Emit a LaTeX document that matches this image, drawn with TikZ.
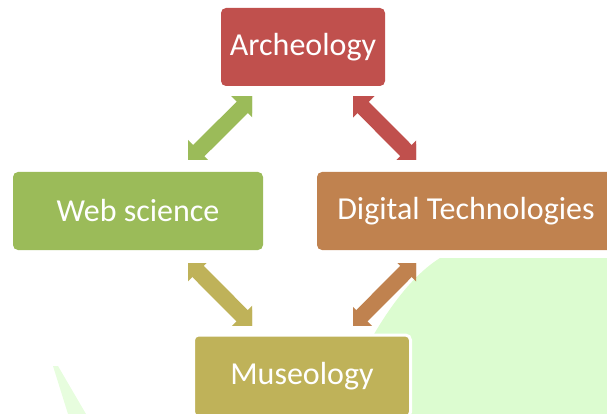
\documentclass[tikz,border=0pt]{standalone}
\usepackage{fontspec}
\setmainfont{Carlito}
\usepackage{tikz}
\usetikzlibrary{arrows.meta,calc}
\definecolor{archc}{HTML}{C0504D}
\definecolor{webc}{HTML}{9BBB59}
\definecolor{digc}{HTML}{C0824F}
\definecolor{musc}{HTML}{BFB259}
\definecolor{bgc}{HTML}{DCFCD0}
\tikzstyle{box}=[rectangle,
                 rounded corners=5pt,
                 inner sep=0pt,
                 minimum height=78pt,
                 text=white,
                 font=\fontsize{32}{38}\selectfont]
\tikzstyle{link}=[line width=16pt,
                  {Triangle[length=22pt,width=36pt]}-{Triangle[length=22pt,width=36pt]},
                  shorten <=8pt, shorten >=8pt]

\begin{document}
\begin{tikzpicture}[x=1pt,y=-1pt]
      % canvas of the slide part
      \useasboundingbox (0,0) rectangle (607,414);
      \clip (0,0) rectangle (607,414);

      % light green backdrop
      \fill[bgc] (440,258) -- (607,258) -- (607,414) -- (335,414)
                 .. controls (370,330) and (405,280) .. (440,258);
      \fill[bgc!70] (53,366) -- (58,366) -- (86,414) -- (68,414) -- cycle;

      \node [box, fill=archc, minimum width=164pt] (arch) at (303,47) {Archeology};
      \node [box, fill=webc, minimum width=250pt] (web) at (138,211) {Web science};
      \node [box, fill=digc, minimum width=298pt] (dig) at (466,211) {Digital Technologies};
      \node [box, fill=musc, draw=white, line width=3pt,
             minimum width=217pt, minimum height=82pt] (mus) at (302,376) {Museology};

      % arrows, cut square at their ends
      \begin{scope}
        \clip (188,97) rectangle (252,160);
        \path [link] (web) edge[draw=webc] (arch);
      \end{scope}
      \begin{scope}
        \clip (353,97) rectangle (416,160);
        \path [link] (arch) edge[draw=archc] (dig);
      \end{scope}
      \begin{scope}
        \clip (188,263) rectangle (252,325);
        \path [link] (web) edge[draw=musc, shorten >=3pt] (mus);
      \end{scope}
      \begin{scope}
        \clip (353,263) rectangle (416,325);
        \path [link] (dig) edge[draw=digc, shorten >=3pt] (mus);
      \end{scope}
\end{tikzpicture}
\end{document}
